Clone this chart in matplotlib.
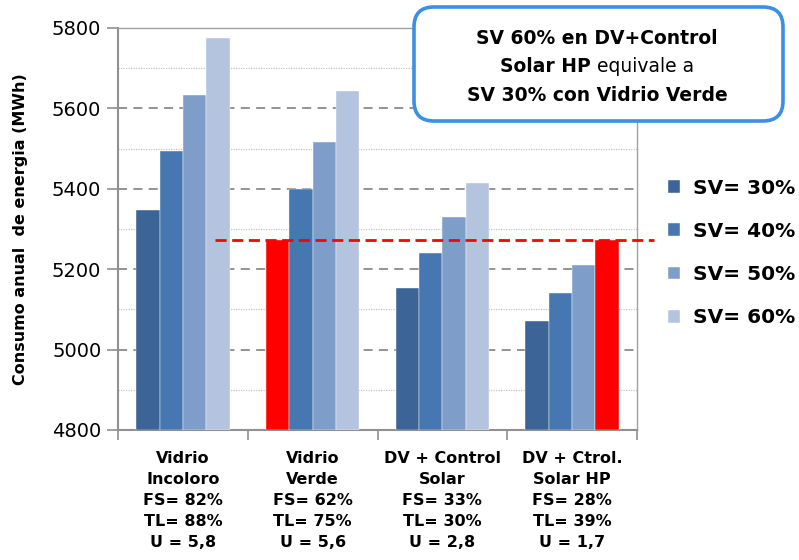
import numpy as np
import matplotlib
matplotlib.use("Agg")
import matplotlib.pyplot as plt
from matplotlib.patches import FancyBboxPatch

# datos: consumo anual (MWh) por tipo de vidrio y superficie vidriada
grupos = ["Vidrio\nIncoloro\nFS= 82%\nTL= 88%\nU = 5,8",
          "Vidrio\nVerde\nFS= 62%\nTL= 75%\nU = 5,6",
          "DV + Control\nSolar\nFS= 33%\nTL= 30%\nU = 2,8",
          "DV + Ctrol.\nSolar HP\nFS= 28%\nTL= 39%\nU = 1,7"]
series = ["SV= 30%", "SV= 40%", "SV= 50%", "SV= 60%"]
sv30 = [5347, 5272, 5152, 5070]
sv40 = [5494, 5400, 5240, 5140]
sv50 = [5633, 5516, 5330, 5210]
sv60 = [5775, 5643, 5415, 5272]
equivalente = 5272  # SV 30% vidrio verde ~ SV 60% DV+Control Solar HP

colores = ["#3c6497", "#4677b0", "#7e9dc9", "#b4c3de"]
rojo = "#ff0000"
# barras resaltadas (grupo, serie)
resaltadas = [(1, 0), (3, 3)]

fig = plt.figure(figsize=(7.99, 5.6), dpi=100)
ax = fig.add_axes([118/799, 1-430/560, (637-118)/799, (430-28)/560])

x = np.arange(len(grupos))
w = 0.18
for i, vals in enumerate([sv30, sv40, sv50, sv60]):
    cols = [colores[i]] * len(vals)
    for g, s in resaltadas:
        if s == i:
            cols[g] = rojo
    ax.bar(x + (i - 1.5) * w, np.array(vals) - 4800, w, bottom=4800,
           color=cols, label=series[i], zorder=3, edgecolor="#ffffff",
           linewidth=0.3)

ax.set_xlim(-0.5, 3.5)
ax.set_ylim(4800, 5800)
ax.set_yticks(np.arange(4800, 5801, 200))
ax.set_yticks(np.arange(4900, 5800, 200), minor=True)
ax.tick_params(axis="y", which="major", labelsize=14, length=8,
               color="#909090", width=1.2, pad=4)
ax.tick_params(axis="y", which="minor", length=0)
ax.set_xticks(np.arange(-0.5, 3.6, 1.0))
ax.set_xticklabels([])
ax.tick_params(axis="x", length=7, color="#909090", width=1.2)

ax.grid(axis="y", which="major", color="#8a8a8a", linestyle=(0, (5, 3.5)),
        linewidth=1.3, zorder=0)
ax.grid(axis="y", which="minor", color="#c4c4c4", linestyle=(0, (1, 1)),
        linewidth=0.9, zorder=0)
ax.set_axisbelow(True)
for side in ["left", "bottom"]:
    ax.spines[side].set_color("#909090")
    ax.spines[side].set_linewidth(1.5)
for side in ["top", "right"]:
    ax.spines[side].set_color("#a0a0a0")
    ax.spines[side].set_linewidth(1.0)

for xi, lab in zip(x, grupos):
    ax.text(xi, 4747, lab, ha="center", va="top", fontsize=11.5,
            fontweight="bold", linespacing=1.5)

ax.set_ylabel("Consumo anual  de energia (MWh)", fontsize=11.5,
              fontweight="bold", labelpad=17)

# línea de equivalencia
ax.plot([0.25, 3.63], [equivalente, equivalente], color=rojo,
        linestyle=(0, (4, 2)), linewidth=2, clip_on=False, zorder=4)

leg = ax.legend(loc="upper left", bbox_to_anchor=(1.045, 0.645),
                frameon=False, prop={"size": 14.5, "weight": "bold"},
                handlelength=0.6, handleheight=0.6, handletextpad=0.6,
                labelspacing=1.2, borderaxespad=0)

# recuadro de comentario
caja = FancyBboxPatch((4.14, 5.6 - 1.21), 3.69, 1.14,
                      boxstyle="round,pad=0,rounding_size=0.2",
                      transform=fig.dpi_scale_trans, facecolor="white",
                      edgecolor="#3b8fe6", linewidth=2.6, zorder=5)
fig.add_artist(caja)

cx = 597 / 799
fig.text(cx, 1 - 39/560, "SV 60% en DV+Control", ha="center", va="center",
         fontsize=13.5, fontweight="bold", zorder=6)
fig.text(cx, 1 - 95/560, "SV 30% con Vidrio Verde", ha="center",
         va="center", fontsize=13.5, fontweight="bold", zorder=6)
t1 = fig.text(cx, 1 - 67/560, "Solar HP", ha="left", va="center",
              fontsize=13.5, fontweight="bold", zorder=6)
t2 = fig.text(cx, 1 - 67/560, " equivale a", ha="left", va="center",
              fontsize=13.5, fontweight="normal", zorder=6)
fig.canvas.draw()
r = fig.canvas.get_renderer()
w1 = t1.get_window_extent(r).width / fig.bbox.width
w2 = t2.get_window_extent(r).width / fig.bbox.width
x0 = cx - (w1 + w2) / 2
t1.set_x(x0)
t2.set_x(x0 + w1)

fig.savefig("out.png", dpi=100)
